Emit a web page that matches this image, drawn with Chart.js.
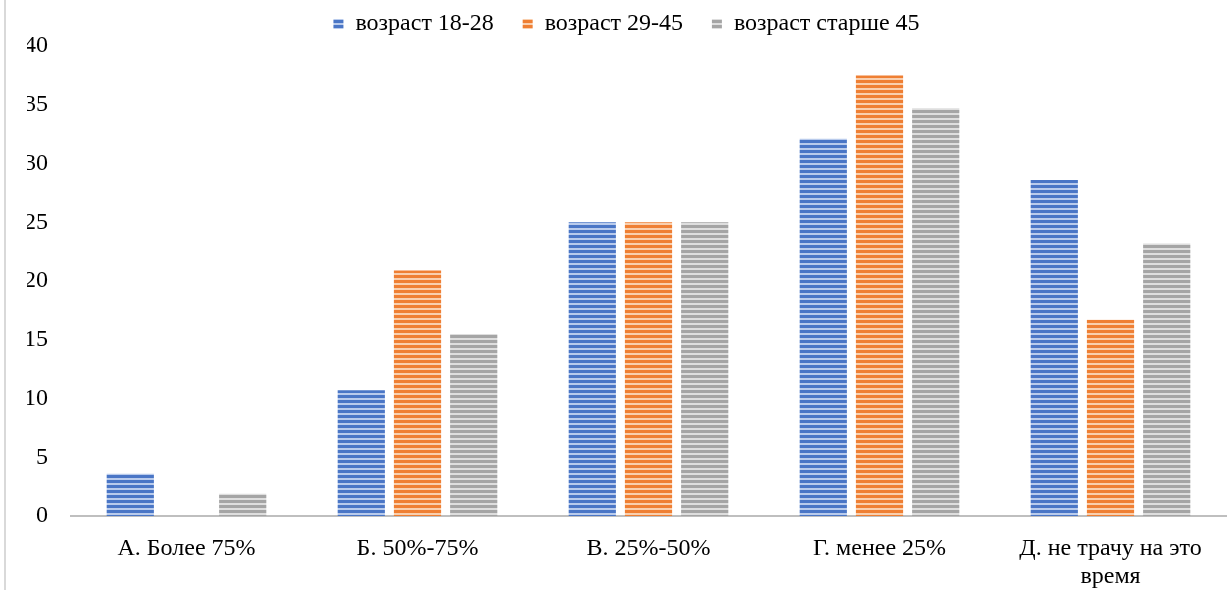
<!DOCTYPE html>
<html>
<head>
<meta charset="utf-8">
<script src="https://cdn.jsdelivr.net/npm/chart.js@4/dist/chart.umd.min.js"></script>
<style>
  html, body { margin: 0; padding: 0; background: #fff; }
  .wrap { position: relative; width: 1232px; height: 590px; }
  .edge { position: absolute; left: 4px; top: 0; width: 2px; height: 590px; background: #d9d9d9; }
  .probe { position: absolute; left: -999px; font-family: "Liberation Serif"; }
</style>
</head>
<body>
<div class="wrap">
  <div class="edge"></div>
  <span class="probe">возраст 0</span>
  <canvas id="myBarChart" width="1232" height="590"></canvas>
</div>
<script>
const categories = ['А. Более 75%', 'Б. 50%-75%', 'В. 25%-50%', 'Г. менее 25%', ['Д. не трачу на это', 'время']];
const age18to28 = [3.6, 10.7, 25.0, 32.1, 28.6];
const age29to45 = [0, 20.9, 25.0, 37.5, 16.7];
const ageOver45 = [1.9, 15.5, 25.0, 34.7, 23.2];
const yTicks = [0, 5, 10, 15, 20, 25, 30, 35, 40];

// striped fill like the original (horizontal lines)
function stripes(dark, light) {
    const c = document.createElement('canvas');
    c.width = 8;
    c.height = 5;
    const g = c.getContext('2d');
    g.fillStyle = light;
    g.fillRect(0, 0, 8, 5);
    g.fillStyle = dark;
    g.fillRect(0, 0, 8, 3);
    return g.createPattern(c, 'repeat');
}

const font = { family: 'Liberation Serif', size: 24, lineHeight: 1.2 };

function drawChart() {
    const ctxBar = document.getElementById('myBarChart').getContext('2d');
    new Chart(ctxBar, {
        type: 'bar',
        data: {
            labels: categories,
            datasets: [
                { label: 'возраст 18-28', data: age18to28, backgroundColor: stripes('#4a76c6', '#b9cbec') },
                { label: 'возраст 29-45', data: age29to45, backgroundColor: stripes('#ef7f33', '#f9cfae') },
                { label: 'возраст старше 45', data: ageOver45, backgroundColor: stripes('#a5a5a5', '#dedede') }
            ]
        },
        options: {
            responsive: false,
            animation: false,
            layout: { padding: { left: 27, right: 6, top: 0, bottom: 0 } },
            datasets: { bar: { categoryPercentage: 0.73, barPercentage: 0.84 } },
            plugins: {
                legend: {
                    position: 'top',
                    labels: {
                        font: font, color: '#000', boxWidth: 10, boxHeight: 10, padding: 12,
                        // a bit more room between legend items
                        generateLabels: function(chart) {
                            const items = Chart.defaults.plugins.legend.labels.generateLabels(chart);
                            items.forEach((it, i) => { if (i < items.length - 1) it.text += '\u2002\u2009'; });
                            return items;
                        }
                    }
                },
                tooltip: { enabled: false }
            },
            scales: {
                x: {
                    afterFit: function(axis) { axis.height = 74; },
                    grid: { display: false },
                    border: { color: '#bfbfbf', width: 2 },
                    ticks: { font: font, color: '#000', maxRotation: 0, padding: 10 }
                },
                y: {
                    min: 0,
                    max: 40,
                    afterBuildTicks: function(axis) { axis.ticks = yTicks.map(v => ({ value: v })); },
                    afterFit: function(axis) { axis.width = 44; },
                    grid: { display: false },
                    border: { display: false },
                    ticks: { font: font, color: '#000', padding: 15 }
                }
            }
        }
    });
}

document.fonts.load('24px "Liberation Serif"', 'возраст 0').then(drawChart, drawChart);
</script>
</body>
</html>
